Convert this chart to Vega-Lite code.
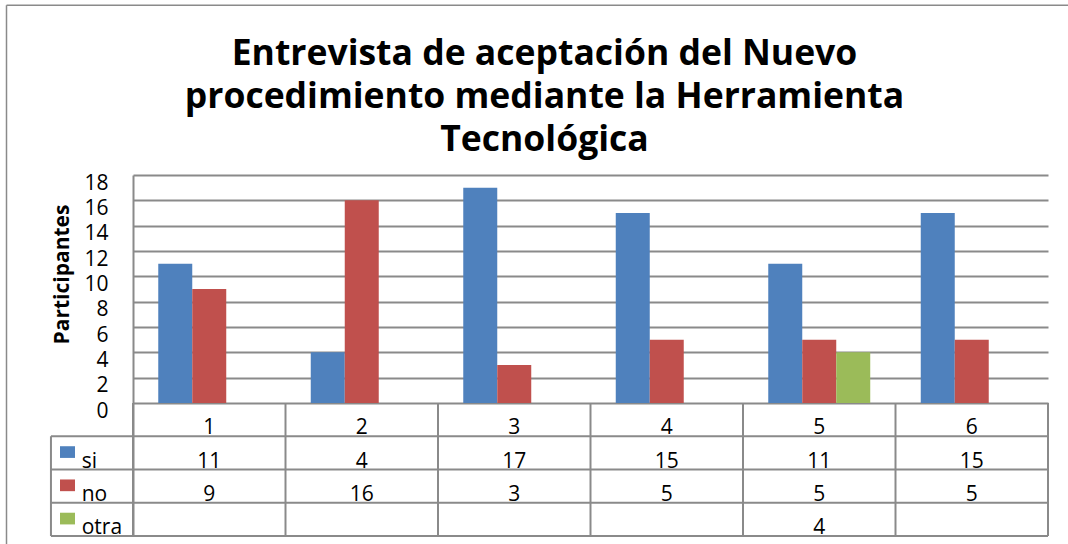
{
  "$schema": "https://vega.github.io/schema/vega-lite/v6.json",
  "width": 915,
  "height": 361,
  "autosize": {"type": "none"},
  "padding": {"left": 133, "top": 175, "right": 20, "bottom": 8},
  "background": "white",
  "config": {"view": {"stroke": null}, "font": "Open Sans"},
  "title": {
    "text": ["Entrevista de aceptación del Nuevo", "procedimiento mediante la Herramienta", "Tecnológica"],
    "font": "Open Sans",
    "fontSize": 35.5,
    "fontWeight": "bold",
    "color": "#000000",
    "lineHeight": 43,
    "anchor": "middle",
    "baseline": "bottom",
    "dx": -46,
    "dy": 189,
    "offset": 0
  },
  "datasets": {
    "bars": [
      {"cat": "1", "serie": "si", "value": 11},
      {"cat": "2", "serie": "si", "value": 4},
      {"cat": "3", "serie": "si", "value": 17},
      {"cat": "4", "serie": "si", "value": 15},
      {"cat": "5", "serie": "si", "value": 11},
      {"cat": "6", "serie": "si", "value": 15},
      {"cat": "1", "serie": "no", "value": 9},
      {"cat": "2", "serie": "no", "value": 16},
      {"cat": "3", "serie": "no", "value": 3},
      {"cat": "4", "serie": "no", "value": 5},
      {"cat": "5", "serie": "no", "value": 5},
      {"cat": "6", "serie": "no", "value": 5},
      {"cat": "5", "serie": "otra", "value": 4}
    ],
    "cats": [{"cat": "1"}, {"cat": "2"}, {"cat": "3"}, {"cat": "4"}, {"cat": "5"}, {"cat": "6"}],
    "series": [{"serie": "si"}, {"serie": "no"}, {"serie": "otra"}],
    "rows": [{"row": "hdr"}, {"row": "si"}, {"row": "no"}, {"row": "otra"}]
  },
  "layer": [
    {
      "data": {"name": "bars"},
      "mark": {"type": "bar"},
      "encoding": {
        "x": {"field": "cat", "type": "nominal", "scale": {"type": "band", "domain": ["1", "2", "3", "4", "5", "6"], "paddingInner": 0, "paddingOuter": 0}, "axis": null},
        "xOffset": {"field": "serie", "type": "nominal", "scale": {"domain": ["si", "no", "otra"], "paddingInner": 0, "paddingOuter": 0.743}},
        "y": {
          "field": "value", "type": "quantitative",
          "scale": {"domain": [-10.5, 18], "nice": false, "zero": false},
          "axis": {
            "values": [0, 2, 4, 6, 8, 10, 12, 14, 16, 18],
            "grid": true, "gridColor": "#8a8a8a", "gridWidth": 2,
            "domainColor": "#8a8a8a", "domainWidth": 2,
            "ticks": false,
            "labelFont": "Open Sans", "labelFontSize": 21, "labelColor": "#000000",
            "labelPadding": 25, "labelOffset": 8, "labelBaseline": "middle",
            "labelOverlap": false, "labelFlush": false,
            "title": "Participantes",
            "titleFont": "Open Sans", "titleFontSize": 21, "titleFontWeight": "bold", "titleColor": "#000000",
            "titleAngle": 270, "titleX": -71, "titleY": 99, "titleAlign": "center", "titleBaseline": "middle"
          }
        },
        "color": {"field": "serie", "type": "nominal", "scale": {"domain": ["si", "no", "otra"], "range": ["#4F81BD", "#C0504D", "#9BBB59"]}, "legend": null}
      }
    },
    {
      "data": {"name": "cats"},
      "mark": {"type": "text", "font": "Open Sans", "fontSize": 21, "baseline": "alphabetic", "dy": -2, "color": "#000000"},
      "encoding": {
        "x": {"field": "cat", "type": "nominal", "scale": {"type": "band", "domain": ["1", "2", "3", "4", "5", "6"], "paddingInner": 0, "paddingOuter": 0}, "axis": null},
        "y": {"datum": "hdr", "type": "ordinal", "scale": {"type": "point", "domain": ["top", "hdr", "si", "no", "otra"], "range": [228, 361], "padding": 0}, "axis": null},
        "text": {"field": "cat"}
      }
    },
    {
      "data": {"name": "bars"},
      "mark": {"type": "text", "font": "Open Sans", "fontSize": 21, "baseline": "alphabetic", "dy": -2, "color": "#000000"},
      "encoding": {
        "x": {"field": "cat", "type": "nominal", "scale": {"type": "band", "domain": ["1", "2", "3", "4", "5", "6"], "paddingInner": 0, "paddingOuter": 0}, "axis": null},
        "y": {"field": "serie", "type": "ordinal", "scale": {"type": "point", "domain": ["top", "hdr", "si", "no", "otra"], "range": [228, 361], "padding": 0}, "axis": null},
        "text": {"field": "value"}
      }
    },
    {
      "data": {"name": "cats"},
      "mark": {"type": "rule", "color": "#8a8a8a", "strokeWidth": 2},
      "encoding": {
        "x": {"field": "cat", "type": "nominal", "bandPosition": 0, "scale": {"type": "band", "domain": ["1", "2", "3", "4", "5", "6"], "paddingInner": 0, "paddingOuter": 0}, "axis": null},
        "y": {"datum": "top", "type": "ordinal", "scale": {"type": "point", "domain": ["top", "hdr", "si", "no", "otra"], "range": [228, 361], "padding": 0}, "axis": null},
        "y2": {"datum": "otra"}
      }
    },
    {
      "data": {"name": "cats"},
      "transform": [{"filter": "datum.cat == '6'"}],
      "mark": {"type": "rule", "color": "#8a8a8a", "strokeWidth": 2},
      "encoding": {
        "x": {"field": "cat", "type": "nominal", "bandPosition": 1, "scale": {"type": "band", "domain": ["1", "2", "3", "4", "5", "6"], "paddingInner": 0, "paddingOuter": 0}, "axis": null},
        "y": {"datum": "top", "type": "ordinal", "scale": {"type": "point", "domain": ["top", "hdr", "si", "no", "otra"], "range": [228, 361], "padding": 0}, "axis": null},
        "y2": {"datum": "otra"}
      }
    },
    {
      "data": {"name": "rows"},
      "mark": {"type": "rule", "color": "#8a8a8a", "strokeWidth": 2},
      "encoding": {
        "x": {"datum": -0.038, "type": "quantitative", "scale": {"domain": [0.5, 6.5], "nice": false, "zero": false}, "axis": null},
        "x2": {"datum": 6.5},
        "y": {"field": "row", "type": "ordinal", "scale": {"type": "point", "domain": ["top", "hdr", "si", "no", "otra"], "range": [228, 361], "padding": 0}, "axis": null}
      }
    },
    {
      "data": {"values": [{}]},
      "mark": {"type": "rule", "color": "#8a8a8a", "strokeWidth": 2},
      "encoding": {
        "x": {"datum": -0.038, "type": "quantitative", "scale": {"domain": [0.5, 6.5], "nice": false, "zero": false}, "axis": null},
        "y": {"datum": "hdr", "type": "ordinal", "scale": {"type": "point", "domain": ["top", "hdr", "si", "no", "otra"], "range": [228, 361], "padding": 0}, "axis": null},
        "y2": {"datum": "otra"}
      }
    },
    {
      "data": {"name": "series"},
      "mark": {"type": "text", "font": "Open Sans", "fontSize": 21, "baseline": "alphabetic", "align": "left", "dy": -2, "color": "#000000"},
      "encoding": {
        "x": {"datum": 0.1636, "type": "quantitative", "scale": {"domain": [0.5, 6.5], "nice": false, "zero": false}, "axis": null},
        "y": {"field": "serie", "type": "ordinal", "scale": {"type": "point", "domain": ["top", "hdr", "si", "no", "otra"], "range": [228, 361], "padding": 0}, "axis": null},
        "text": {"field": "serie"}
      }
    },
    {
      "data": {"name": "series"},
      "mark": {"type": "point", "filled": true, "opacity": 1, "strokeWidth": 0, "size": 144, "shape": "M-1.25,-3.88H1.25V-1.93H-1.25Z"},
      "encoding": {
        "x": {"datum": 0.0705, "type": "quantitative", "scale": {"domain": [0.5, 6.5], "nice": false, "zero": false}, "axis": null},
        "y": {"field": "serie", "type": "ordinal", "scale": {"type": "point", "domain": ["top", "hdr", "si", "no", "otra"], "range": [228, 361], "padding": 0}, "axis": null},
        "color": {"field": "serie", "type": "nominal", "scale": {"domain": ["si", "no", "otra"], "range": ["#4F81BD", "#C0504D", "#9BBB59"]}, "legend": null}
      }
    },
    {
      "data": {"values": [{}]},
      "mark": {"type": "rule", "color": "#8a8a8a", "strokeWidth": 1.5},
      "encoding": {
        "x": {"datum": -0.3295, "type": "quantitative", "scale": {"domain": [0.5, 6.5], "nice": false, "zero": false}, "axis": null},
        "y": {"datum": 31.4, "type": "quantitative", "scale": {"domain": [-10.5, 18], "nice": false, "zero": false}, "axis": null},
        "y2": {"datum": -13}
      }
    },
    {
      "data": {"values": [{}]},
      "mark": {"type": "rule", "color": "#8a8a8a", "strokeWidth": 1.5},
      "encoding": {
        "x": {"datum": -0.3295, "type": "quantitative", "scale": {"domain": [0.5, 6.5], "nice": false, "zero": false}, "axis": null},
        "x2": {"datum": 7},
        "y": {"datum": 31.4, "type": "quantitative", "scale": {"domain": [-10.5, 18], "nice": false, "zero": false}, "axis": null}
      }
    }
  ],
  "resolve": {"scale": {"x": "independent", "y": "independent", "color": "independent", "xOffset": "independent"}}
}
